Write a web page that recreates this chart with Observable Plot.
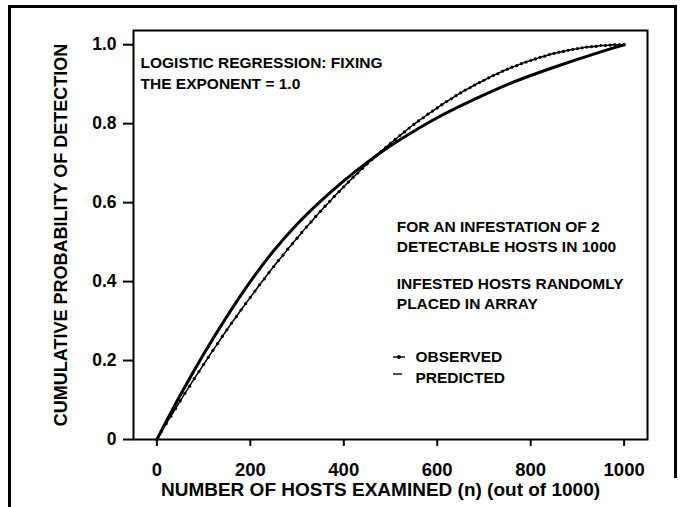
<!DOCTYPE html>
<html><head><meta charset="utf-8">
<script src="https://cdn.jsdelivr.net/npm/d3@7"></script>
<script src="https://cdn.jsdelivr.net/npm/@observablehq/plot@0.6"></script>
<style>
html,body{margin:0;padding:0;background:#fff;}
#wrap{position:relative;width:681px;height:507px;overflow:hidden;background:#fff;}
#wrap svg{position:absolute;left:0;top:0;}
.b{position:absolute;background:#000;}
</style></head><body>
<div id="wrap">
<div class="b" style="left:8px;top:5px;width:669px;height:3px"></div>
<div class="b" style="left:8px;top:5px;width:3px;height:502px"></div>
<div class="b" style="left:674px;top:5px;width:3px;height:473px"></div>
</div>
<script>
// Observed: hosts examined (n) and cumulative probability of detection
const observedN = [0,10,20,30,40,50,60,70,80,90,100,110,120,130,140,150,160,170,180,190,200,210,220,230,240,250,260,270,280,290,300,310,320,330,340,350,360,370,380,390,400,410,420,430,440,450,460,470,480,490,500,510,520,530,540,550,560,570,580,590,600,610,620,630,640,650,660,670,680,690,700,710,720,730,740,750,760,770,780,790,800,810,820,830,840,850,860,870,880,890,900,910,920,930,940,950,960,970,980,990,1000];
const observedP = [0,0.020,0.040,0.059,0.078,0.098,0.117,0.135,0.154,0.172,0.190,0.208,0.226,0.243,0.261,0.278,0.295,0.311,0.328,0.344,0.360,0.376,0.392,0.407,0.423,0.438,0.453,0.467,0.482,0.496,0.510,0.524,0.538,0.551,0.565,0.578,0.591,0.603,0.616,0.628,0.640,0.652,0.664,0.675,0.687,0.698,0.709,0.719,0.730,0.740,0.750,0.760,0.770,0.779,0.789,0.798,0.807,0.815,0.824,0.832,0.840,0.848,0.856,0.863,0.871,0.878,0.885,0.891,0.898,0.904,0.910,0.916,0.922,0.927,0.933,0.938,0.943,0.947,0.952,0.956,0.960,0.964,0.968,0.971,0.975,0.978,0.981,0.983,0.986,0.988,0.990,0.992,0.994,0.995,0.996,0.998,0.998,0.999,1.000,1.000,1.000];
// Predicted (logistic regression, exponent fixed at 1.0)
const predictedN = [0,50,100,150,200,250,300,350,400,450,500,550,600,650,700,750,800,850,900,950,1000];
const predictedP = [0,0.112,0.216,0.312,0.400,0.478,0.545,0.603,0.655,0.702,0.744,0.781,0.815,0.845,0.873,0.899,0.922,0.943,0.963,0.982,1.0];
const xTicks = [0,200,400,600,800,1000];
const yTicks = [0,0.2,0.4,0.6,0.8,1.0];
const yTickLabels = ["0","0.2","0.4","0.6","0.8","1.0"];
const xTitle = "NUMBER OF HOSTS EXAMINED (n) (out of 1000)";
const yTitle = "CUMULATIVE PROBABILITY OF DETECTION";
const note1 = ["LOGISTIC REGRESSION: FIXING", "THE EXPONENT = 1.0"];
const note2 = ["FOR AN INFESTATION OF 2", "DETECTABLE HOSTS IN 1000"];
const note3 = ["INFESTED HOSTS RANDOMLY", "PLACED IN ARRAY"];
const legendLabels = ["OBSERVED", "PREDICTED"];

const observed = observedN.map((n, i) => ({n, p: observedP[i]}));
const predicted = predictedN.map((n, i) => ({n, p: predictedP[i]}));

const FONT = '"Liberation Sans", Arial, Helvetica, sans-serif';
const ann = (s, dx, dy, extra = {}) => Plot.text([s], {
  text: d => d, frameAnchor: "top-left", dx, dy, textAnchor: "start",
  lineAnchor: "middle", fontSize: 15.5, fontWeight: "bold", fill: "#000", ...extra
});

// legend symbols (observed: line with dot; predicted: short line)
function legendSymbols(index, scales, values, dimensions) {
  const {marginLeft, marginTop} = dimensions;
  const g = d3.create("svg:g").attr("transform", `translate(${marginLeft},${marginTop})`);
  g.append("line").attr("x1", 260).attr("x2", 272).attr("y1", 327).attr("y2", 327)
    .attr("stroke", "#000").attr("stroke-width", 1.4);
  g.append("circle").attr("cx", 266).attr("cy", 327).attr("r", 2).attr("fill", "#000");
  g.append("line").attr("x1", 260).attr("x2", 269).attr("y1", 344).attr("y2", 344)
    .attr("stroke", "#000").attr("stroke-width", 1.4);
  return g.node();
}

const chart = Plot.plot({
  width: 681, height: 507,
  marginLeft: 133, marginRight: 34, marginTop: 30, marginBottom: 68,
  style: {fontFamily: FONT, color: "#000", background: "transparent", overflow: "visible"},
  x: {domain: [-50, 1050]},
  y: {domain: [0, 1.036]},
  marks: [
    Plot.frame({stroke: "#000", strokeWidth: 2}),
    Plot.axisX({ticks: xTicks, tickSize: 7, tickPadding: 16, fontSize: 18.5, fontWeight: "bold",
      tickFormat: d => String(d), strokeWidth: 2, label: null}),
    Plot.axisY({ticks: yTicks, tickSize: 10, tickPadding: 7, fontSize: 17.5, fontWeight: "bold",
      tickFormat: d => yTickLabels[yTicks.indexOf(d)], strokeWidth: 2, label: null}),
    Plot.line(observed, {x: "n", y: "p", stroke: "#000", strokeWidth: 1.5}),
    Plot.dot(observed, {x: "n", y: "p", r: 1.6, fill: "#000", stroke: null}),
    Plot.line(predicted, {x: "n", y: "p", stroke: "#000", strokeWidth: 3, curve: "catmull-rom"}),
    Plot.text([xTitle], {text: d => d, frameAnchor: "bottom", dx: -10, dy: 50, lineAnchor: "middle",
      textAnchor: "middle", fontSize: 19, fontWeight: "bold", fill: "#000"}),
    Plot.text([yTitle], {text: d => d, frameAnchor: "left", dx: -72, rotate: -90, lineAnchor: "middle",
      textAnchor: "middle", fontSize: 18, fontWeight: "bold", fill: "#000"}),
    ann(note1[0], 7, 32.7),
    ann(note1[1], 7, 53.3),
    ann(note2[0], 263.3, 196.4),
    ann(note2[1], 263.3, 216.4),
    ann(note3[0], 263.3, 253.2),
    ann(note3[1], 263.3, 273.2),
    ann(legendLabels[0], 282, 327),
    ann(legendLabels[1], 282, 347.5),
    legendSymbols
  ]
});
document.getElementById("wrap").appendChild(chart);
</script>
</body></html>
